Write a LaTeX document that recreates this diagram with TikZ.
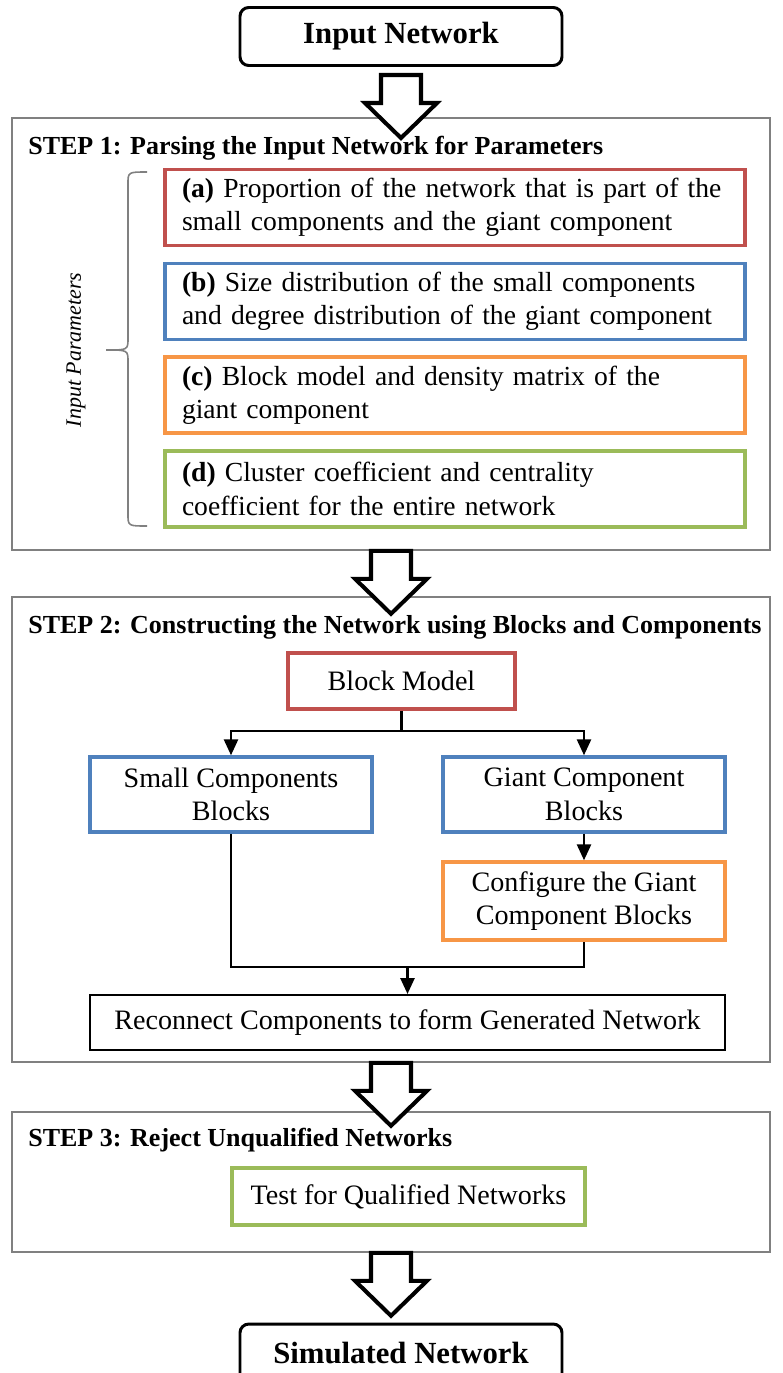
\documentclass[tikz,border=0pt]{standalone}
\usepackage{fontspec}
\setmainfont{Liberation Serif}
\usetikzlibrary{calc, arrows.meta}

\definecolor{boxred}{RGB}{192,80,77}
\definecolor{boxblue}{RGB}{79,129,189}
\definecolor{boxorange}{RGB}{247,150,70}
\definecolor{boxgreen}{RGB}{155,187,89}
\definecolor{framegray}{RGB}{128,128,128}

\def\px{0.02cm}

% hollow block arrow, hanging down from the given point
\newcommand{\hollowarrow}[1]{%
	\draw[line width=2.3pt, fill=white, miter limit=20] (#1) ++(-20,0) -- ++(0,28) -- ++(-16,0) -- ++(36,35) -- ++(36,-35) -- ++(-16,0) -- ++(0,-28) -- cycle;}

\begin{document}
\begin{tikzpicture}[x=0.02cm, y=-0.02cm,
		every node/.style={font=\fontsize{16}{19}\selectfont},
		endbox/.style={draw, line width=1.7pt, rounded corners=5pt, minimum width=322*\px, minimum height=58*\px, font=\bfseries\fontsize{17.5}{21}\selectfont},
		frame/.style={draw=framegray, line width=0.9pt, minimum width=758*\px},
		heading/.style={anchor=west, inner sep=0pt, font=\bfseries\fontsize{14.8}{17}\selectfont},
		param/.style={draw, line width=2pt, align=left, text width=546*\px, inner xsep=17*\px, inner ysep=0pt, minimum height=76*\px, font=\fontsize{15.7}{19}\selectfont},
		block/.style={draw, line width=2pt, align=center, inner sep=0pt}]
		
		\useasboundingbox (0,0) rectangle (782,1373);
		
		\node[endbox] (inp) at (401,36.5) {Input Network};
		
		% step 1
		\node[frame, minimum height=432*\px] (step1) at (391,334) {};
		\node[heading] (h1) at (28,148) {STEP 1: Parsing the Input Network for Parameters};
		
		\node[param, draw=boxred] (pa) at (455,207.5) {\textbf{(a)} Proportion of the network that is part of the\\small components and the giant component};
		\node[param, draw=boxblue] (pb) at (455,301.5) {\textbf{(b)} Size distribution of the small components\\and degree distribution of the giant component};
		\node[param, draw=boxorange] (pc) at (455,395) {\textbf{(c)} Block model and density matrix of the\\giant component};
		\node[param, draw=boxgreen] (pd) at (455,489) {\textbf{(d)} Cluster coefficient and centrality\\coefficient for the entire network};
		
		\draw[framegray, line width=0.9pt] (147,172) .. controls (128,172) .. (128,184) -- (128,338) .. controls (128,350) .. (106,350) .. controls (128,350) .. (128,362) -- (128,514) .. controls (128,526) .. (147,526);
		\node[rotate=90, font=\itshape\fontsize{12.5}{15}\selectfont] (ip) at (76,350) {Input Parameters};
		
		% step 2
		\node[frame, minimum height=465*\px] (step2) at (391,829.5) {};
		\node[heading] (h2) at (28,627) {STEP 2: Constructing the Network using Blocks and Components};
		
		\node[block, draw=boxred, minimum width=227*\px, minimum height=56*\px] (bm) at (401.5,681) {Block Model};
		\node[block, draw=boxblue, minimum width=282*\px, minimum height=75*\px] (small) at (231,794.5) {Small Components\\Blocks};
		\node[block, draw=boxblue, minimum width=282*\px, minimum height=75*\px] (giant) at (584,794.5) {Giant Component\\Blocks};
		\node[block, draw=boxorange, minimum width=282*\px, minimum height=78*\px] (conf) at (584,901) {Configure the Giant\\Component Blocks};
		\node[block, minimum width=635*\px, minimum height=55*\px, line width=1.2pt] (recon) at (407.5,1022.5) {Reconnect Components to form Generated Network};
		
		\coordinate (split) at (401.5,731);
		\coordinate (join) at (407.5,967);
		
		\begin{scope}[line width=1.2pt, -{Triangle[length=9pt, width=8pt]}]
			\draw[-] (bm.south) -- (split);
			\draw (split) -| (small.north);
			\draw (split) -| (giant.north);
			\draw (giant) -- (conf);
			\draw[-] (small.south) |- (join) -| (conf.south);
			\draw (join) -- (recon.north);
		\end{scope}
		
		% step 3
		\node[frame, minimum height=140*\px] (step3) at (391,1182) {};
		\node[heading] (h3) at (28,1140) {STEP 3: Reject Unqualified Networks};
		\node[block, draw=boxgreen, minimum width=353*\px, minimum height=57*\px] (test) at (408.5,1196.5) {Test for Qualified Networks};
		
		\node[endbox] (sim) at (401,1353) {Simulated Network};
		
		\hollowarrow{$(inp.south)+(0,8)$}
		\hollowarrow{step1.south}
		\hollowarrow{step2.south}
		\hollowarrow{step3.south}
	\end{tikzpicture}
\end{document}
